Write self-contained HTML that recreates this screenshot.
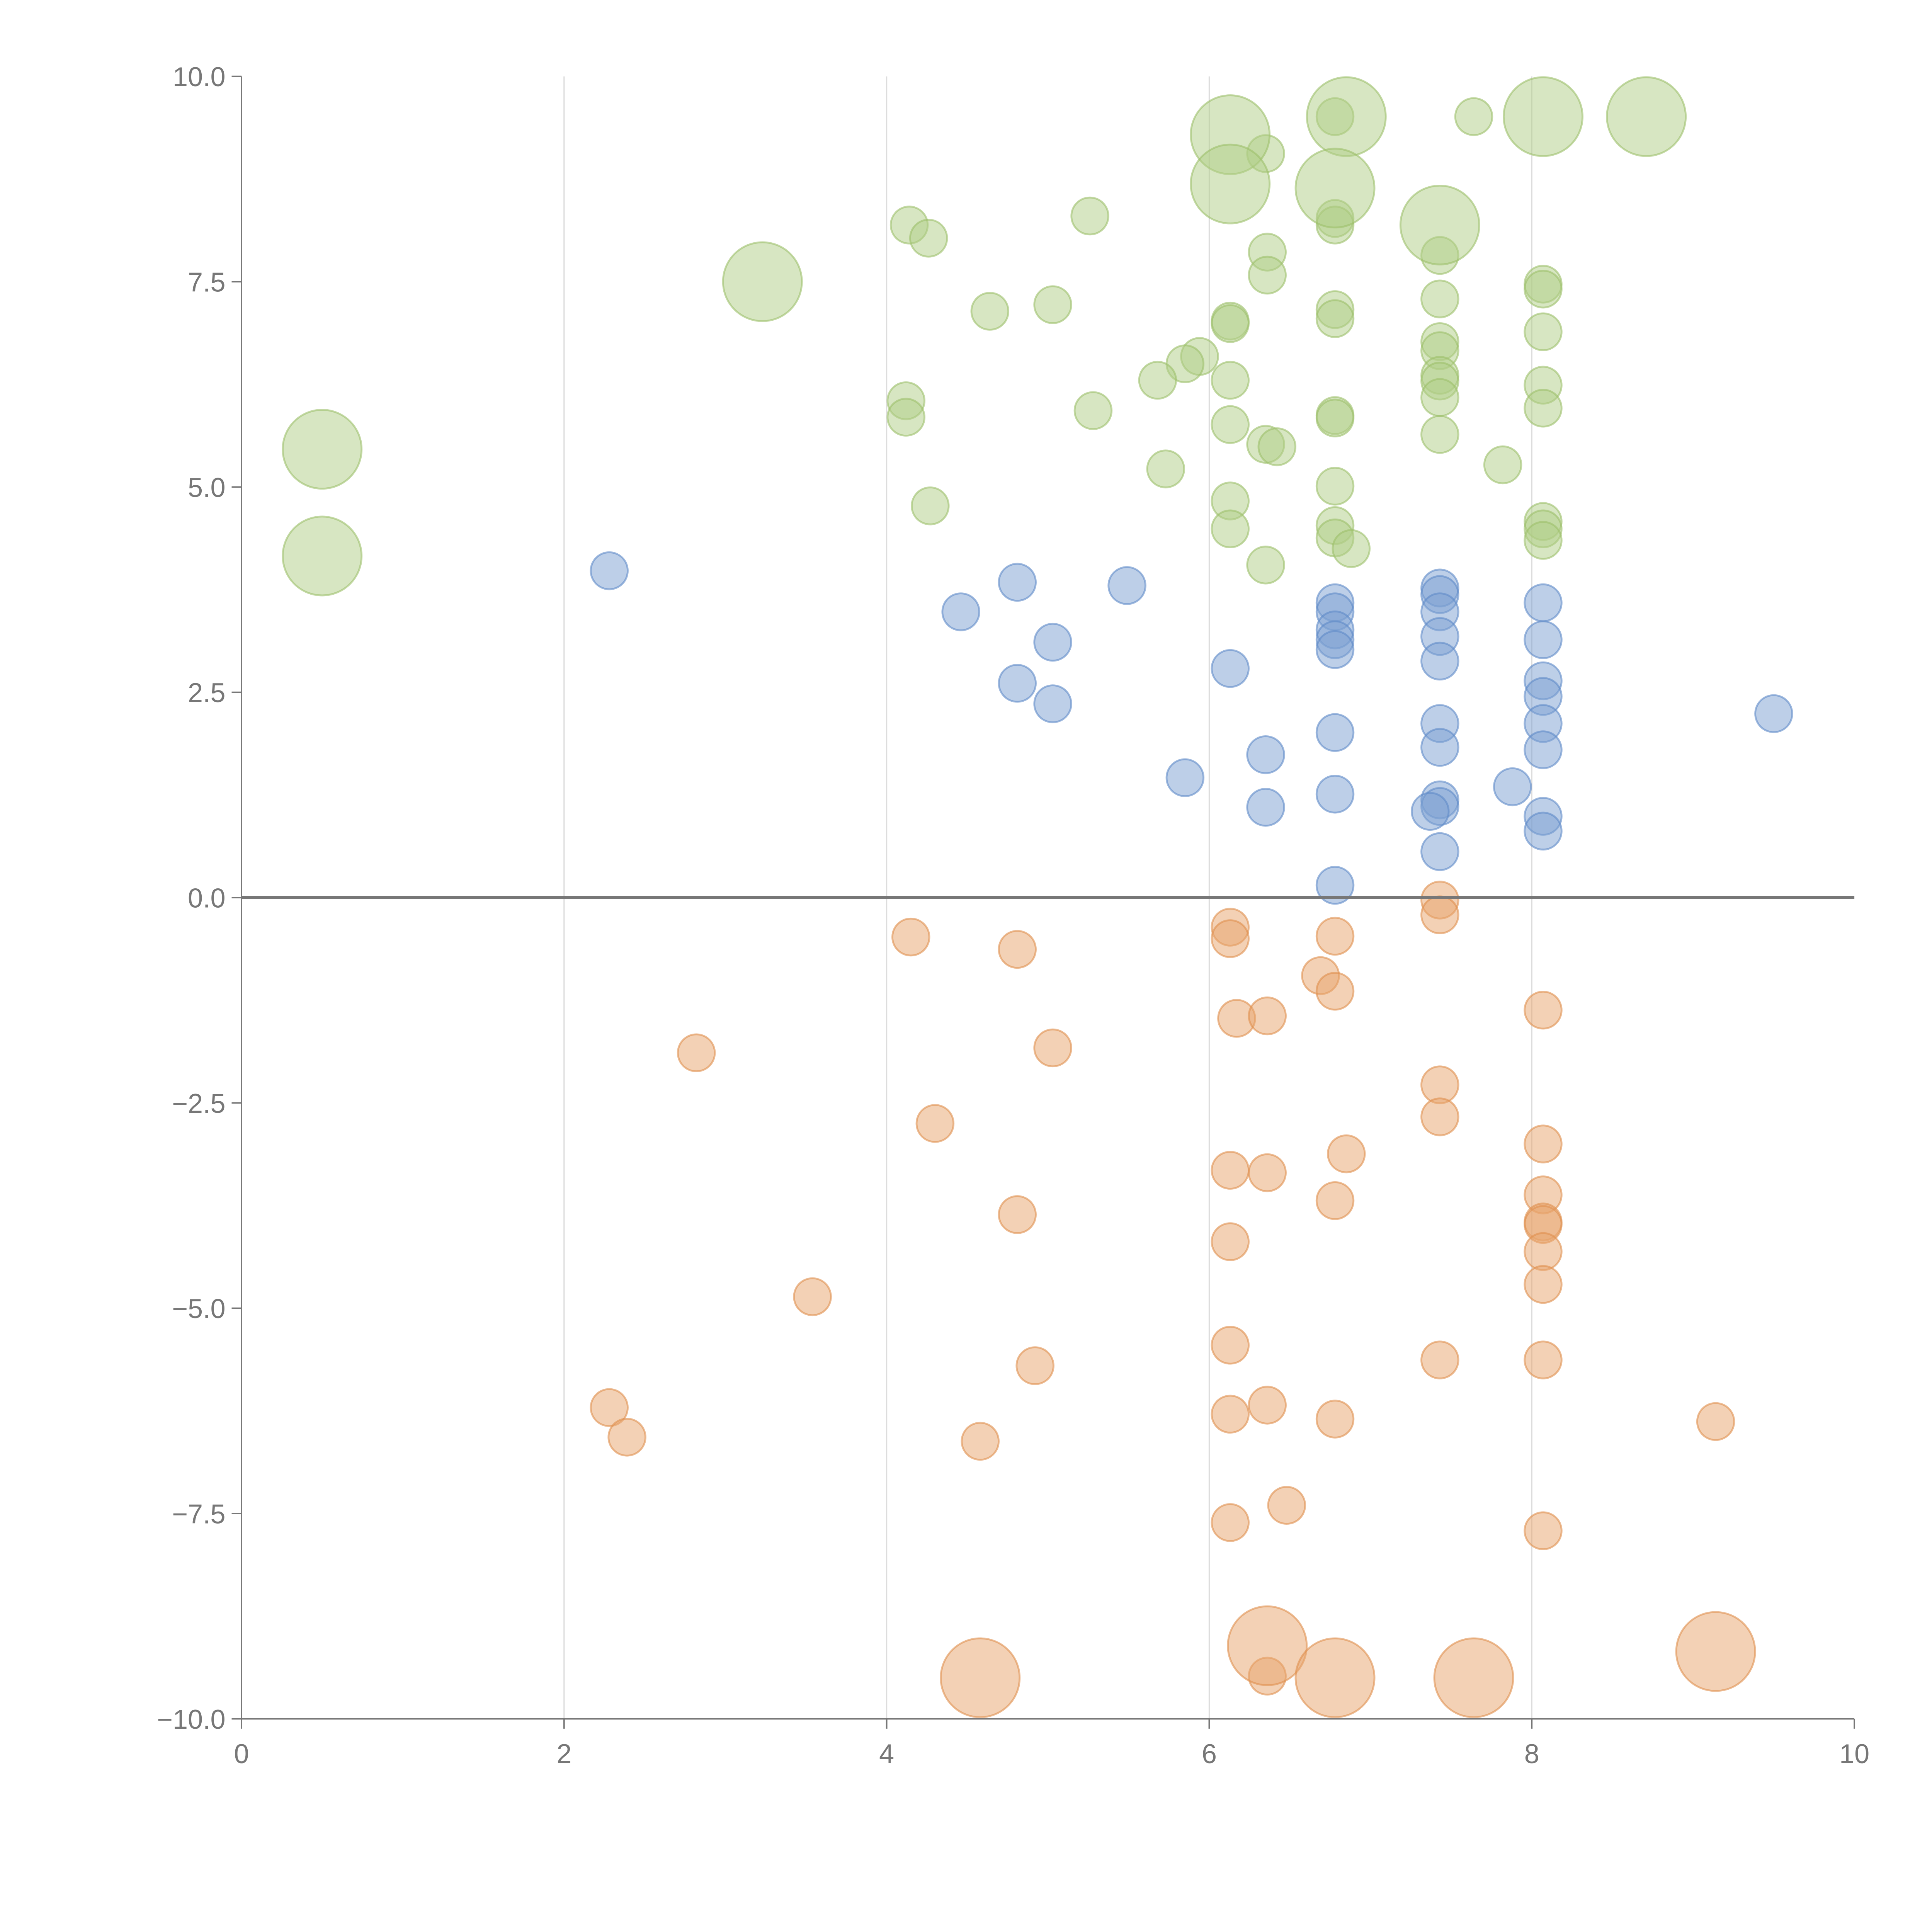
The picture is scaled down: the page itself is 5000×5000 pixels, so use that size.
<!DOCTYPE html>
<html><head><meta charset="utf-8"><style>
html,body{margin:0;padding:0;background:#fff}
svg{display:block}
text{font-family:"Liberation Sans",sans-serif}
</style></head><body>
<svg id="chart" width="5000" height="5000" viewBox="0 0 1568 1568" xmlns="http://www.w3.org/2000/svg">
<g id="grid"></g>
<g id="marks"></g>
<g id="axes"></g>
</svg>
<script>
const xTicks=[0,2,4,6,8,10];
const yTicks=[10,7.5,5,2.5,0,-2.5,-5,-7.5,-10];
const yTickLabels=["10.0","7.5","5.0","2.5","0.0","\u22122.5","\u22125.0","\u22127.5","\u221210.0"];
const greenX=[4.14,4.26,5.26,4.64,5.03,6.35,6.36,6.36,6.78,7.64,6.78,6.78,7.43,8.07,8.07,6.78,6.78,7.43,6.13,6.13,5.94,5.85,5.68,6.13,7.43,7.43,7.43,7.43,7.43,8.07,8.07,8.07,4.12,4.12,5.28,6.13,6.78,6.78,6.35,6.42,7.43,5.73,7.82,6.78,4.27,6.13,6.13,6.78,6.78,6.88,6.35,8.07,8.07,8.07,0.50,0.50,3.23,6.13,6.13,6.85,6.78,7.43,8.07,8.71];
const greenY=[8.19,8.03,8.30,7.14,7.22,9.06,7.86,7.58,9.51,9.51,8.27,8.19,7.82,7.47,7.41,7.16,7.05,7.29,7.02,6.99,6.59,6.50,6.30,6.30,6.77,6.66,6.36,6.29,6.09,6.89,6.24,5.96,6.05,5.85,5.93,5.76,5.87,5.84,5.52,5.49,5.64,5.22,5.27,5.01,4.77,4.83,4.49,4.53,4.38,4.25,4.05,4.58,4.49,4.35,5.46,4.16,7.50,9.29,8.69,9.51,8.64,8.19,9.51,9.51];
const greenS=[1,1,1,1,1,1,1,1,1,1,1,1,1,1,1,1,1,1,1,1,1,1,1,1,1,1,1,1,1,1,1,1,1,1,1,1,1,1,1,1,1,1,1,1,1,1,1,1,1,1,1,1,1,1,2,2,2,2,2,2,2,2,2,2];
const blueX=[2.28,4.46,4.81,5.49,5.03,4.81,5.03,6.13,5.85,6.35,6.35,6.78,6.78,6.78,6.78,6.78,6.78,6.78,6.78,7.43,7.43,7.43,7.43,7.43,7.43,7.43,7.43,7.43,7.37,7.43,7.88,8.07,8.07,8.07,8.07,8.07,8.07,8.07,8.07,9.50];
const blueY=[3.98,3.48,3.84,3.80,3.11,2.61,2.36,2.79,1.46,1.74,1.10,3.59,3.48,3.26,3.14,3.02,2.01,1.26,0.15,3.77,3.69,3.48,3.18,2.88,2.12,1.83,1.19,1.11,1.05,0.56,1.35,3.59,3.14,2.64,2.45,2.12,1.80,0.99,0.81,2.24];
const orangeX=[4.15,4.81,6.13,6.13,6.78,7.43,7.43,6.69,6.78,6.17,6.36,8.07,2.82,5.03,7.43,7.43,4.30,6.85,8.07,6.13,6.36,6.78,8.07,8.07,8.07,4.81,6.13,8.07,8.07,3.54,6.13,7.43,8.07,4.92,2.28,6.13,6.36,6.78,9.14,2.39,4.58,6.48,6.13,8.07,6.36,4.58,6.36,6.78,7.64,9.14];
const orangeY=[-0.48,-0.63,-0.36,-0.50,-0.47,-0.03,-0.21,-0.95,-1.14,-1.47,-1.44,-1.37,-1.89,-1.83,-2.28,-2.67,-2.75,-3.12,-3.00,-3.32,-3.35,-3.69,-3.62,-3.95,-3.98,-3.86,-4.19,-4.31,-4.71,-4.86,-5.45,-5.63,-5.63,-5.70,-6.21,-6.29,-6.18,-6.35,-6.38,-6.57,-6.62,-7.40,-7.61,-7.71,-9.48,-9.50,-9.11,-9.50,-9.50,-9.18];
const orangeS=[1,1,1,1,1,1,1,1,1,1,1,1,1,1,1,1,1,1,1,1,1,1,1,1,1,1,1,1,1,1,1,1,1,1,1,1,1,1,1,1,1,1,1,1,1,2,2,2,2,2];

const NS="http://www.w3.org/2000/svg";
const X0=196,X1=1505,Y0=1395,Y1=62;
const xs=v=>X0+(v-0)/(10-0)*(X1-X0);
const ys=v=>Y0-(v+10)/20*(Y0-Y1);
const rs=s=>s===2?32:15;
function mk(tag,attrs,parent){const e=document.createElementNS(NS,tag);for(const k in attrs)e.setAttribute(k,attrs[k]);parent.appendChild(e);return e;}
const grid=document.getElementById('grid'),marks=document.getElementById('marks'),axes=document.getElementById('axes');

xTicks.forEach(t=>{
  if(t>0&&t<10){
    const l=mk('line',{x1:xs(t),x2:xs(t),y1:Y1,y2:Y0,stroke:'#dddddd','stroke-width':1},grid);
    
    
  }
});
function series(X,Y,S,fill,stroke,name){
  X.forEach((x,i)=>{
    const c=mk('circle',{cx:xs(x),cy:ys(Y[i]),r:rs(S?S[i]:1),fill:fill,'fill-opacity':0.5,stroke:stroke,'stroke-opacity':0.6,'stroke-width':1.5},marks);
    
    
  });
}
series(greenX,greenY,greenS,'#b0cd85','#9cc06a','bubble-green');
series(blueX,blueY,null,'#7b9fd2','#5f8ac8','bubble-blue');
series(orangeX,orangeY,orangeS,'#e8a46c','#e0904f','bubble-orange');

const zl=mk('line',{x1:X0,x2:X1,y1:ys(0),y2:ys(0),stroke:'#777','stroke-width':2.5},axes);


const ya=mk('line',{x1:X0,x2:X0,y1:Y1,y2:Y0,stroke:'#777','stroke-width':1.2},axes);


const xa=mk('line',{x1:X0,x2:X1,y1:Y0,y2:Y0,stroke:'#777','stroke-width':1.2},axes);


yTicks.forEach((t,i)=>{
  mk('line',{x1:X0-8,x2:X0,y1:ys(t),y2:ys(t),stroke:'#777','stroke-width':1.2},axes);
  const tx=mk('text',{x:X0-13,y:ys(t)+8,'text-anchor':'end','font-size':22,fill:'#777'},axes);
  tx.textContent=yTickLabels[i];
  
  
});
xTicks.forEach(t=>{
  mk('line',{x1:xs(t),x2:xs(t),y1:Y0,y2:Y0+8,stroke:'#777','stroke-width':1.2},axes);
  const tx=mk('text',{x:xs(t),y:Y0+36,'text-anchor':'middle','font-size':22,fill:'#777'},axes);
  tx.textContent=String(t);
  
  
});
</script>
</body></html>
